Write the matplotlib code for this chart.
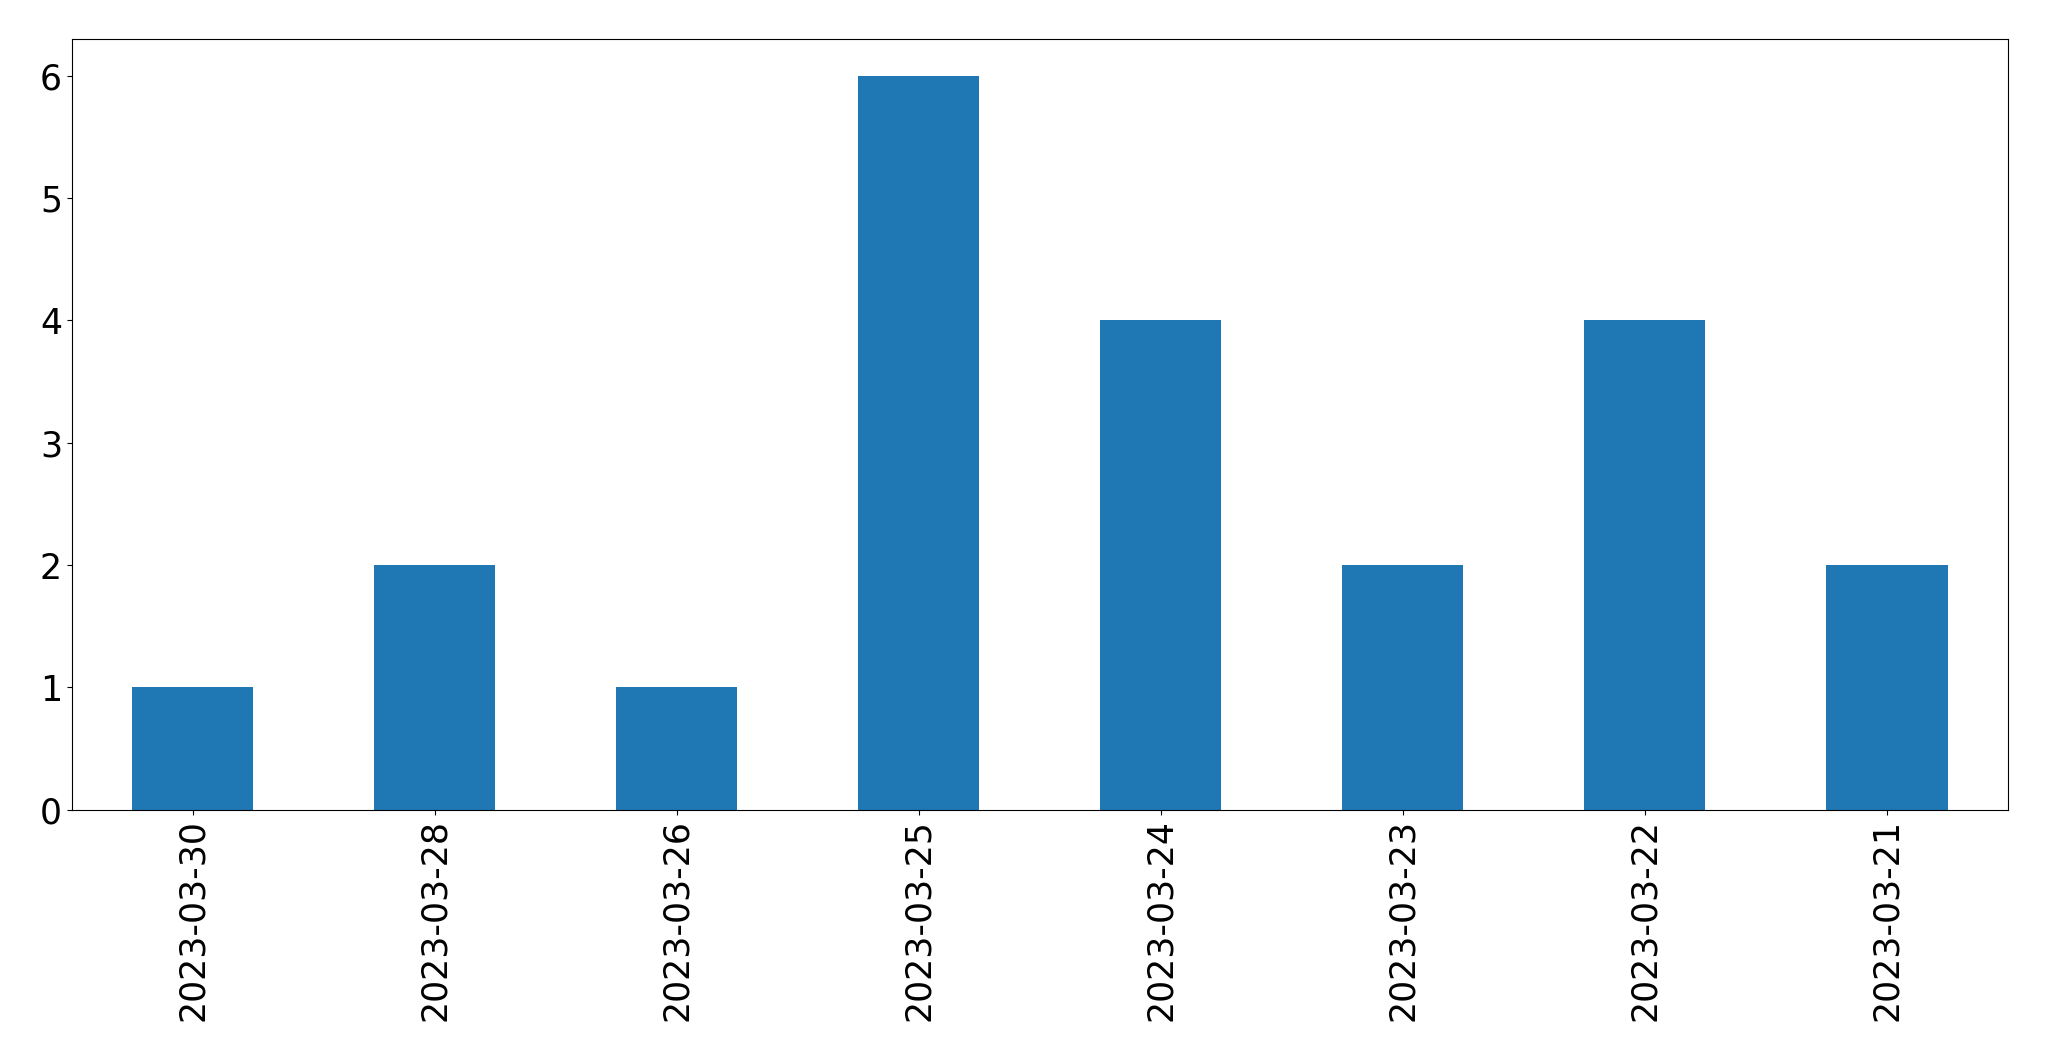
import matplotlib
matplotlib.use("Agg")
import matplotlib.pyplot as plt

# dates (x categories) and counts per date
dates = ["2023-03-30", "2023-03-28", "2023-03-26", "2023-03-25",
         "2023-03-24", "2023-03-23", "2023-03-22", "2023-03-21"]
counts = [1, 2, 1, 6, 4, 2, 4, 2]

fig, ax = plt.subplots(figsize=(20.49, 10.61), dpi=100)
x = range(len(dates))
ax.bar(x, counts, width=0.5, color="#1f77b4")
ax.set_xlim(-0.5, len(dates) - 0.5)
ax.set_ylim(0, 6.3)
ax.set_xticks(list(x))
ax.set_xticklabels(dates, rotation=90, fontsize=25)
ax.tick_params(axis="y", labelsize=25)

plt.subplots_adjust(left=0.035, right=0.98, top=0.963, bottom=0.237)
plt.savefig("out.png", dpi=100)
